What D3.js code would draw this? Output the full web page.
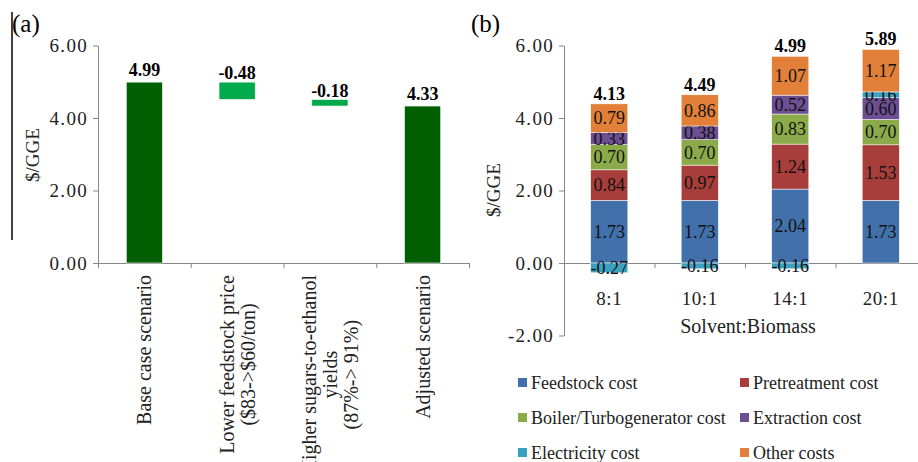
<!DOCTYPE html>
<html>
<head>
<meta charset="utf-8">
<script src="https://cdn.jsdelivr.net/npm/d3@7"></script>
<style>
    body { margin: 0; background: #fff; }
    svg { display: block; font-family: "Liberation Serif", "Times New Roman", serif; }
    .axis path, .axis line { stroke: #868686; }
    .axis text { font-size: 19px; letter-spacing: 1.3px; fill: #222; font-family: "Liberation Serif", serif; }
</style>
</head>
<body>
<div id="chart"></div>
<script>
// panel (a) data
var scenarios = [
    ["Base case scenario"],
    ["Lower feedstock price", "($83->$60/ton)"],
    ["Higher sugars-to-ethanol", "yields", "(87%-> 91%)"],
    ["Adjusted scenario"]
];
var scenarioValues = [4.99, -0.48, -0.18, 4.33];
var scenarioKinds = ["total", "delta", "delta", "total"];

// panel (b) data
var ratios = ["8:1", "10:1", "14:1", "20:1"];
var feedstock = [1.73, 1.73, 2.04, 1.73];
var pretreatment = [0.84, 0.97, 1.24, 1.53];
var boiler = [0.70, 0.70, 0.83, 0.70];
var extraction = [0.33, 0.38, 0.52, 0.60];
var electricity = [-0.27, -0.16, -0.16, 0.16];
var other = [0.79, 0.86, 1.07, 1.17];
var totals = [4.13, 4.49, 4.99, 5.89];
var seriesNames = ["Feedstock cost", "Pretreatment cost", "Boiler/Turbogenerator cost",
    "Extraction cost", "Electricity cost", "Other costs"];
var seriesColors = ["#4170AB", "#A83E3B", "#8BAB4A", "#6D4F94", "#3AA2BE", "#E2803A"];

var W = 918, H = 462;
var svg = d3.select("#chart").append("svg")
    .attr("width", W)
    .attr("height", H);

// stray frame line at the left edge
svg.append("line")
    .attr("x1", 12).attr("x2", 12)
    .attr("y1", 12).attr("y2", 240)
    .attr("stroke", "#000").attr("stroke-width", 1.5);

// plain hyphen for negatives, like the original
var fmt = function (v) { return (+v).toFixed(2); };

// ---------- panel (a) ----------
var ya = d3.scaleLinear().domain([0, 6]).range([263, 45.5]);
var xa = d3.scaleBand().domain(d3.range(scenarios.length))
    .range([98, 469]).paddingInner(0.61).paddingOuter(0.305);

var ga = svg.append("g");
ga.append("g")
    .attr("class", "axis")
    .attr("transform", "translate(98,0)")
    .call(d3.axisLeft(ya).tickValues([0, 2, 4, 6]).tickFormat(fmt).tickSize(5).tickSizeOuter(0).tickPadding(5));
ga.append("g")
    .attr("class", "axis")
    .attr("transform", "translate(0," + ya(0) + ")")
    .call(d3.axisBottom(d3.scaleLinear().domain([0, 4]).range([98, 469]))
        .ticks(4).tickFormat("").tickSize(5).tickSizeOuter(0));

// waterfall spans
var run = 0;
var wf = scenarioValues.map(function (v, i) {
    var d = {i: i, v: v};
    if (scenarioKinds[i] === "total") { d.lo = 0; d.hi = v; run = v; }
    else { d.hi = run; d.lo = run + v; run = run + v; }
    return d;
});

ga.selectAll("rect.wf").data(wf).enter().append("rect")
    .attr("class", "wf")
    .attr("x", function (d) { return xa(d.i); })
    .attr("width", xa.bandwidth())
    .attr("y", function (d) { return ya(d.hi); })
    .attr("height", function (d) { return ya(d.lo) - ya(d.hi); })
    .attr("fill", function (d) { return d.v < 0 ? "#00AA4B" : "#005F00"; })
    .attr("stroke", "#fff").attr("stroke-width", 0.6);

ga.selectAll("text.wfl").data(wf).enter().append("text")
    .attr("class", "wfl")
    .attr("x", function (d) { return xa(d.i) + xa.bandwidth() / 2; })
    .attr("y", function (d) { return ya(d.hi) - (d.v < 0 ? 3 : 6); })
    .attr("text-anchor", "middle")
    .attr("font-size", "18px")
    .attr("font-weight", "bold")
    .text(function (d) { return fmt(d.v); });

// rotated category labels
scenarios.forEach(function (lines, i) {
    var cx = xa(i) + xa.bandwidth() / 2;
    var g = ga.append("g")
        .attr("transform", "translate(" + cx + ",275) rotate(-90)");
    var tmp = g.append("text").attr("font-size", "20px");
    var L = d3.max(lines.map(function (s) { tmp.text(s); return tmp.node().getComputedTextLength(); }));
    tmp.remove();
    lines.forEach(function (s, k) {
        g.append("text")
            .attr("x", -L / 2)
            .attr("y", (k - (lines.length - 1) / 2) * 21)
            .attr("dy", "0.35em")
            .attr("text-anchor", "middle")
            .attr("font-size", "20px")
            .attr("fill", "#222")
            .text(s);
    });
});

ga.append("text")
    .attr("transform", "translate(32,155) rotate(-90)")
    .attr("dy", "0.35em")
    .attr("text-anchor", "middle")
    .attr("font-size", "19px")
    .attr("fill", "#222")
    .text("$/GGE");
ga.append("text").attr("x", 12).attr("y", 32).attr("font-size", "25px").text("(a)");

// ---------- panel (b) ----------
var yb = d3.scaleLinear().domain([-2, 6]).range([335.5, 45.5]);
var xb = d3.scaleBand().domain(ratios).range([564, 926]).paddingInner(0.59).paddingOuter(0.295);

var gb = svg.append("g");
gb.append("g")
    .attr("class", "axis")
    .attr("transform", "translate(564,0)")
    .call(d3.axisLeft(yb).tickValues([-2, 0, 2, 4, 6]).tickFormat(fmt).tickSize(5).tickSizeOuter(0).tickPadding(5));
gb.append("g")
    .attr("class", "axis")
    .attr("transform", "translate(0," + yb(0) + ")")
    .call(d3.axisBottom(d3.scaleLinear().domain([0, 4]).range([564, 926]))
        .ticks(4).tickFormat("").tickSize(5).tickSizeOuter(0));

var table = ratios.map(function (r, i) {
    return {
        ratio: r, s0: feedstock[i], s1: pretreatment[i], s2: boiler[i],
        s3: extraction[i], s4: electricity[i], s5: other[i]
    };
});
var keys = ["s0", "s1", "s2", "s3", "s4", "s5"];
var stack = d3.stack().keys(keys).offset(d3.stackOffsetDiverging)(table);

var layers = gb.selectAll("g.layer").data(stack).enter().append("g")
    .attr("class", "layer")
    .attr("fill", function (d, i) { return seriesColors[i]; });
layers.selectAll("rect").data(function (d) { return d; }).enter().append("rect")
    .attr("x", function (d) { return xb(d.data.ratio); })
    .attr("width", xb.bandwidth())
    .attr("y", function (d) { return yb(d[1]); })
    .attr("height", function (d) { return yb(d[0]) - yb(d[1]); })
    .attr("stroke", "#fff").attr("stroke-width", 0.5);

layers.each(function (layer) {
    d3.select(this).selectAll("text").data(layer).enter().append("text")
        .attr("x", function (d) { return xb(d.data.ratio) + xb.bandwidth() / 2; })
        .attr("y", function (d) { return yb((d[0] + d[1]) / 2); })
        .attr("dy", "0.35em")
        .attr("text-anchor", "middle")
        .attr("font-size", "18px")
        .attr("fill", "#111")
        .text(function (d) { return fmt(d.data[layer.key]); });
});

// totals above each stack
gb.selectAll("text.tot").data(table).enter().append("text")
    .attr("class", "tot")
    .attr("x", function (d) { return xb(d.ratio) + xb.bandwidth() / 2; })
    .attr("y", function (d, i) { return yb(stack[stack.length - 1][i][1]) - 4; })
    .attr("text-anchor", "middle")
    .attr("font-size", "18px")
    .attr("font-weight", "bold")
    .text(function (d, i) { return fmt(totals[i]); });

gb.selectAll("text.cat").data(ratios).enter().append("text")
    .attr("class", "cat")
    .attr("x", function (d) { return xb(d) + xb.bandwidth() / 2; })
    .attr("y", 305)
    .attr("text-anchor", "middle")
    .attr("font-size", "19px")
    .attr("letter-spacing", "0.5px")
    .attr("fill", "#222")
    .text(function (d) { return d; });

gb.append("text")
    .attr("x", 748).attr("y", 333)
    .attr("text-anchor", "middle")
    .attr("font-size", "20px")
    .attr("fill", "#222")
    .text("Solvent:Biomass");

gb.append("text")
    .attr("transform", "translate(493,190) rotate(-90)")
    .attr("dy", "0.35em")
    .attr("text-anchor", "middle")
    .attr("font-size", "19px")
    .attr("fill", "#222")
    .text("$/GGE");
gb.append("text").attr("x", 471).attr("y", 32).attr("font-size", "25px").text("(b)");

// legend, two columns
var legend = gb.selectAll("g.leg").data(seriesNames).enter().append("g")
    .attr("class", "leg")
    .attr("transform", function (d, i) {
        return "translate(" + (i % 2 === 0 ? 518 : 740) + "," + (383 + Math.floor(i / 2) * 35) + ")";
    });
legend.append("rect")
    .attr("x", 0).attr("y", -5)
    .attr("width", 9).attr("height", 9)
    .attr("fill", function (d, i) { return seriesColors[i]; });
legend.append("text")
    .attr("x", 13)
    .attr("dy", "0.35em")
    .attr("font-size", "18px")
    .attr("fill", "#222")
    .text(function (d) { return d; });
</script>
</body>
</html>
